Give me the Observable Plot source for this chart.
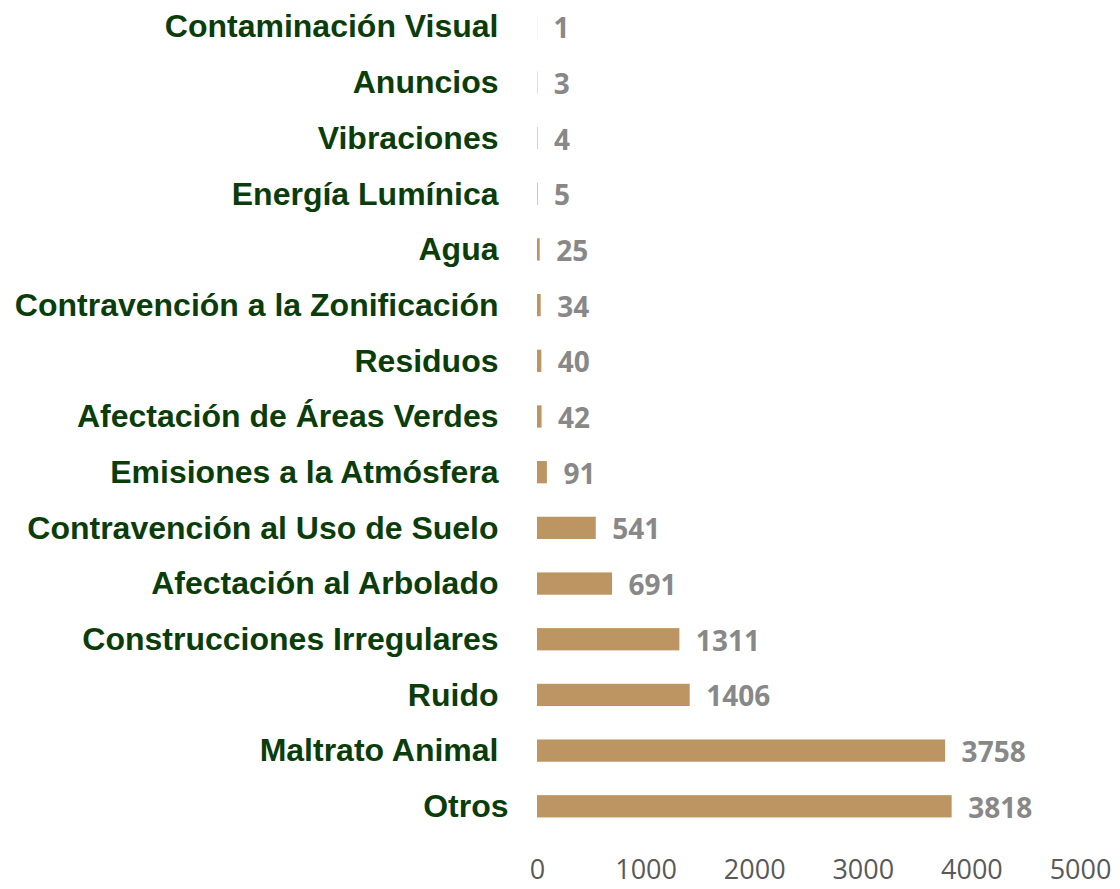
<!DOCTYPE html>
<html>
<head>
<meta charset="utf-8">
<script src="https://cdn.jsdelivr.net/npm/d3@7"></script>
<script src="https://cdn.jsdelivr.net/npm/@observablehq/plot@0.6"></script>
<style>
  html, body { margin: 0; padding: 0; background: #ffffff; }
  #chart svg { display: block; }
</style>
</head>
<body>
<div id="chart"></div>
<script>
const categories = [
  "Contaminación Visual",
  "Anuncios",
  "Vibraciones",
  "Energía Lumínica",
  "Agua",
  "Contravención a la Zonificación",
  "Residuos",
  "Afectación de Áreas Verdes",
  "Emisiones a la Atmósfera",
  "Contravención al Uso de Suelo",
  "Afectación al Arbolado",
  "Construcciones Irregulares",
  "Ruido",
  "Maltrato Animal",
  "Otros"
];
const values = [1, 3, 4, 5, 25, 34, 40, 42, 91, 541, 691, 1311, 1406, 3758, 3818];
const xTicks = [0, 1000, 2000, 3000, 4000, 5000];

const data = categories.map((c, i) => ({category: c, value: values[i]}));

const labelStyle = {
  tickSize: 0, label: null,
  fill: "#0b3d0b", fontSize: 32, fontWeight: "bold",
  fontFamily: "'Liberation Sans', Arial, sans-serif"
};

const chart = Plot.plot({
  width: 1120,
  height: 889,
  marginLeft: 537,
  marginRight: 40,
  marginTop: 10,
  marginBottom: 66,
  style: {background: "#ffffff", overflow: "visible"},
  x: {domain: [0, 5000], ticks: xTicks, tickFormat: d => String(d), label: null},
  y: {domain: categories, padding: 0.6, paddingOuter: 0.1, round: false, label: null},
  marks: [
    Plot.barX(data, {x: "value", y: "category", fill: "#bd9562"}),
    Plot.text(data, {
      x: "value", y: "category", text: d => String(d.value),
      textAnchor: "start", dx: 16, dy: 2,
      fill: "#888888", fontSize: 28, fontWeight: "bold",
      fontFamily: "'Open Sans', sans-serif"
    }),
    Plot.axisY({...labelStyle, ticks: categories.filter(c => c !== "Otros"), tickPadding: 39}),
    Plot.axisY({...labelStyle, ticks: ["Otros"], tickPadding: 29}),
    Plot.axisX({
      ticks: xTicks, tickFormat: d => String(d),
      tickSize: 0, tickPadding: 36, label: null,
      fill: "#595959", fontSize: 27,
      fontFamily: "'Open Sans', sans-serif"
    })
  ]
});
document.getElementById("chart").appendChild(chart);
</script>
</body>
</html>
